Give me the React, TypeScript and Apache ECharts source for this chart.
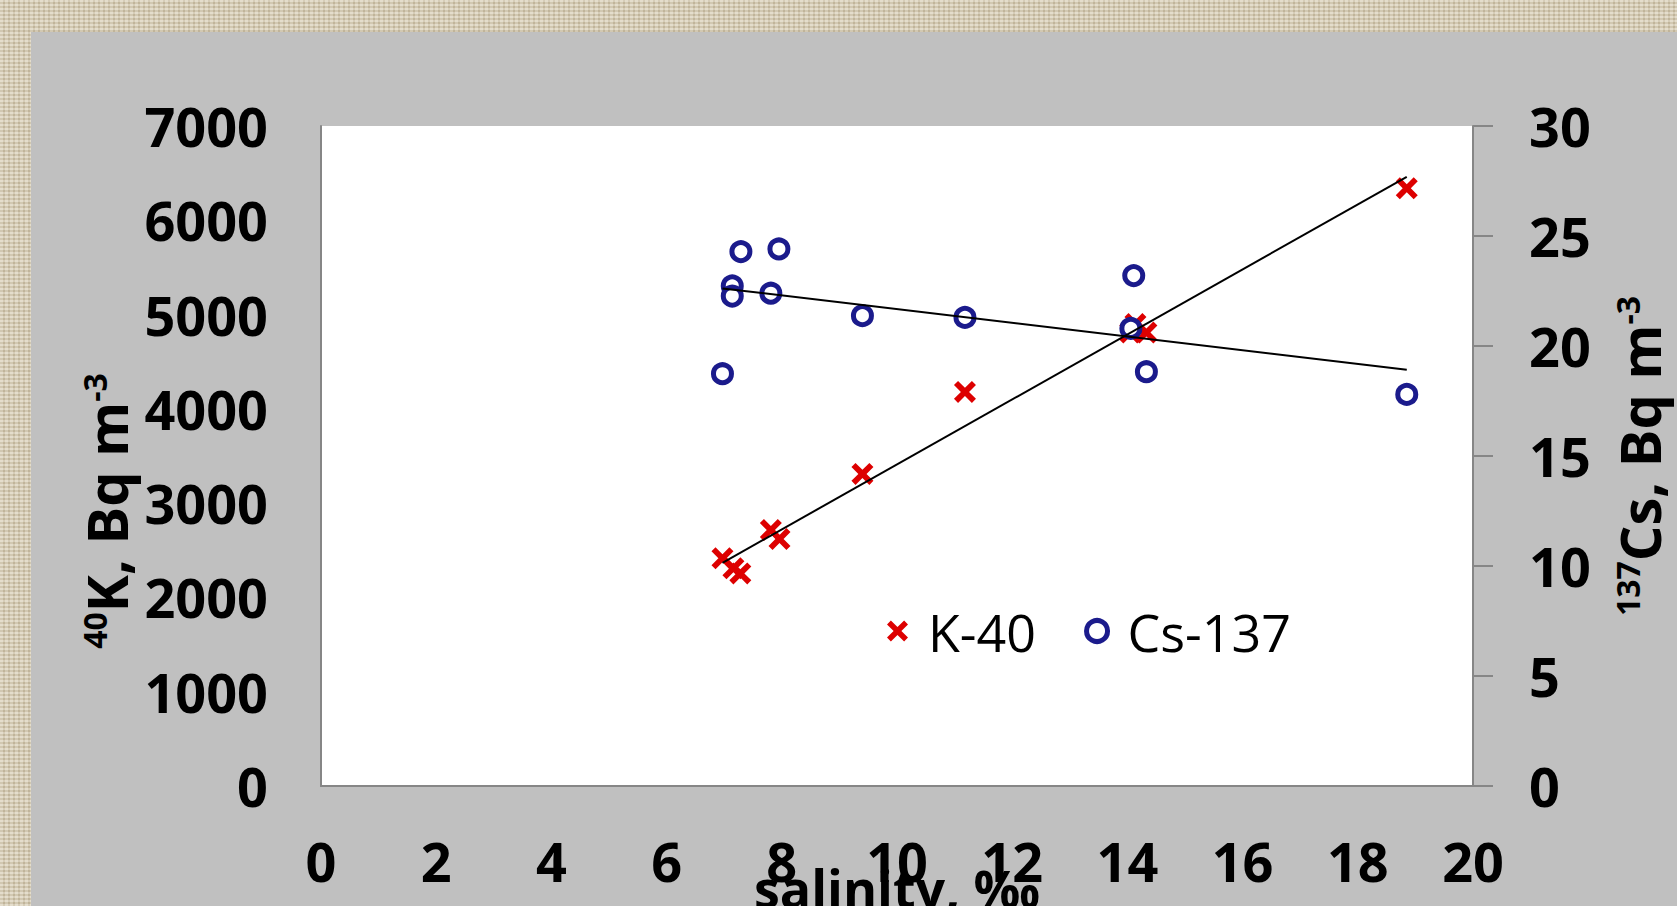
import React, { useEffect, useRef } from "react";
import * as echarts from "echarts";

// ---- data ----
const salinityK = [6.97, 7.16, 7.28, 7.81, 7.96, 9.4, 11.18, 14.05, 14.14, 14.33, 18.85];
const k40 = [2415, 2310, 2255, 2715, 2620, 3310, 4180, 4810, 4900, 4810, 6340];
const salinityCs = [6.97, 7.14, 7.14, 7.29, 7.81, 7.95, 9.4, 11.18, 14.06, 14.11, 14.33, 18.85];
const cs137 = [18.74, 22.73, 22.27, 24.29, 22.4, 24.41, 21.38, 21.3, 20.8, 23.2, 18.83, 17.8];
const seriesNames = ["K-40", "Cs-137"];
const xTitle = "salinity, ‰";

const FONT = "'Open Sans', 'Noto Sans', sans-serif";
const CROSS =
  "path://M0,3.7 L3.7,0 L10,6.3 L16.3,0 L20,3.7 L13.7,10 L20,16.3 L16.3,20 L10,13.7 L3.7,20 L0,16.3 L6.3,10 Z";
const RED = "#dd0000";
const NAVY = "#1b1b8c";

function trend(xs: number[], ys: number[]): number[][] {
  const n = xs.length;
  const mx = xs.reduce((a, b) => a + b, 0) / n;
  const my = ys.reduce((a, b) => a + b, 0) / n;
  let sxy = 0;
  let sxx = 0;
  for (let i = 0; i < n; i++) {
    sxy += (xs[i] - mx) * (ys[i] - my);
    sxx += (xs[i] - mx) * (xs[i] - mx);
  }
  const b = sxy / sxx;
  const a = my - b * mx;
  const x0 = Math.min(...xs);
  const x1 = Math.max(...xs);
  return [
    [x0, a + b * x0],
    [x1, a + b * x1],
  ];
}

export default function App() {
  const ref = useRef<HTMLDivElement>(null);
  useEffect(() => {
    if (!ref.current) return;
    const chart = echarts.init(ref.current, null, { renderer: "svg" });
    const axisLineStyle = { color: "#868686", width: 2 };
    const labelStyle = {
      fontFamily: FONT,
      fontWeight: "bold" as const,
      fontSize: 54,
      color: "#000",
      formatter: (v: number) => String(v),
    };
    const titleRich = {
      main: { fontFamily: FONT, fontWeight: "bold", fontSize: 56, lineHeight: 56, fill: "#000" },
      sup: { fontFamily: FONT, fontWeight: "bold", fontSize: 32, lineHeight: 32, fill: "#000", verticalAlign: "top" },
    };
    chart.setOption({
      animation: false,
      backgroundColor: "#c0c0c0",
      textStyle: { fontFamily: FONT },
      grid: {
        left: 290,
        top: 94,
        width: 1152,
        height: 660,
        show: true,
        backgroundColor: "#ffffff",
        borderWidth: 0,
        containLabel: false,
        outerBoundsMode: "none",
      },
      legend: {
        left: 851,
        top: 564,
        itemWidth: 21,
        itemHeight: 21,
        itemGap: 48,
        data: [
          { name: seriesNames[0], icon: CROSS, itemStyle: { color: RED, borderWidth: 0 } },
          { name: seriesNames[1], icon: "circle", itemStyle: { color: "#fff", borderColor: NAVY, borderWidth: 5 } },
        ],
        textStyle: {
          fontFamily: FONT,
          fontSize: 52,
          color: "#000",
          padding: [0, 0, 0, 15],
          lineHeight: 60,
        },
      },
      xAxis: {
        type: "value",
        min: 0,
        max: 20,
        interval: 2,
        axisLine: { show: true, onZero: false, lineStyle: axisLineStyle },
        axisTick: { show: false },
        splitLine: { show: false },
        axisLabel: { ...labelStyle, margin: 48 },
        name: xTitle,
        nameLocation: "middle",
        nameGap: 75,
        nameMoveOverlap: false,
        nameTextStyle: { fontFamily: FONT, fontWeight: "bold", fontSize: 52, color: "#000" },
      },
      yAxis: [
        {
          type: "value",
          position: "left",
          min: 0,
          max: 7000,
          interval: 1000,
          axisLine: { show: true, lineStyle: axisLineStyle },
          axisTick: { show: false },
          splitLine: { show: false },
          axisLabel: { ...labelStyle, margin: 53, padding: [0, 0, 10, 0] },
        },
        {
          type: "value",
          position: "right",
          min: 0,
          max: 30,
          interval: 5,
          axisLine: { show: true, lineStyle: axisLineStyle },
          axisTick: { show: true, inside: false, length: 20, lineStyle: axisLineStyle },
          splitLine: { show: false },
          axisLabel: { ...labelStyle, margin: 56, padding: [0, 0, 10, 0] },
        },
      ],
      graphic: [
        {
          type: "text",
          x: 75,
          y: 479,
          rotation: Math.PI / 2,
          style: {
            text: "{sup|40}{main|K, Bq m}{sup|-3}",
            align: "center",
            verticalAlign: "middle",
            rich: titleRich,
          },
        },
        {
          type: "text",
          x: 1608,
          y: 424,
          rotation: Math.PI / 2,
          style: {
            text: "{sup|137}{main|Cs, Bq m}{sup|-3}",
            align: "center",
            verticalAlign: "middle",
            rich: titleRich,
          },
        },
      ],
      series: [
        {
          name: seriesNames[0],
          type: "scatter",
          yAxisIndex: 0,
          symbol: CROSS,
          symbolSize: 22,
          itemStyle: { color: RED, opacity: 1 },
          data: salinityK.map((x, i) => [x, k40[i]]),
          z: 2,
        },
        {
          name: seriesNames[1],
          type: "scatter",
          yAxisIndex: 1,
          symbol: "circle",
          symbolSize: 18,
          itemStyle: { color: "#fff", borderColor: NAVY, borderWidth: 5, opacity: 1 },
          data: salinityCs.map((x, i) => [x, cs137[i]]),
          z: 3,
        },
        {
          name: "K-40 trend",
          type: "line",
          yAxisIndex: 0,
          symbol: "none",
          lineStyle: { color: "#000", width: 2 },
          data: trend(salinityK, k40),
          z: 5,
          silent: true,
        },
        {
          name: "Cs-137 trend",
          type: "line",
          yAxisIndex: 1,
          symbol: "none",
          lineStyle: { color: "#000", width: 2 },
          data: trend(salinityCs, cs137),
          z: 5,
          silent: true,
        },
      ],
    });
    return () => chart.dispose();
  }, []);

  return (
    <div
      style={{
        position: "absolute",
        left: 0,
        top: 0,
        width: 1677,
        height: 906,
        overflow: "hidden",
        background:
          "repeating-linear-gradient(0deg, rgba(255,255,255,0.22) 0px, rgba(255,255,255,0.22) 2px, rgba(110,95,70,0.10) 2px, rgba(110,95,70,0.10) 4px), repeating-linear-gradient(90deg, rgba(255,255,255,0.18) 0px, rgba(255,255,255,0.18) 3px, rgba(110,95,70,0.12) 3px, rgba(110,95,70,0.12) 5px), #d6cbb0",
      }}
    >
      <div ref={ref} style={{ position: "absolute", left: 31, top: 32, width: 1646, height: 874 }} />
    </div>
  );
}
